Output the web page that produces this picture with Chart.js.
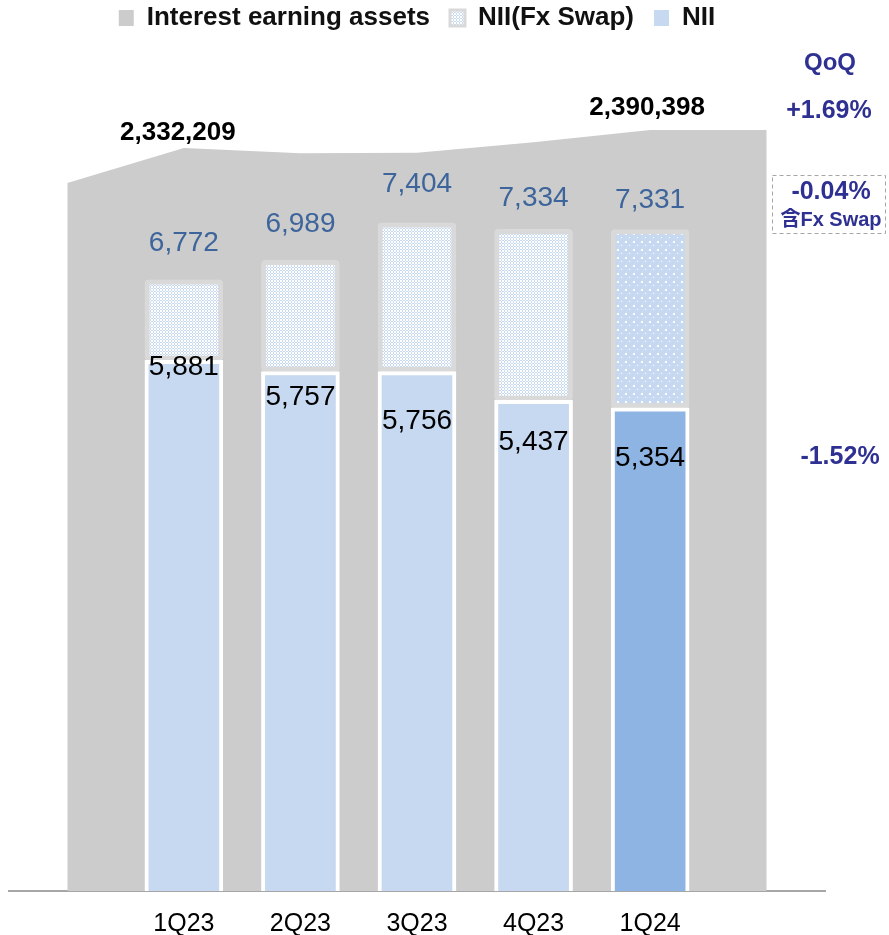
<!DOCTYPE html>
<html>
<head>
<meta charset="utf-8">
<script src="https://cdn.jsdelivr.net/npm/chart.js@4"></script>
<style>
  html, body { margin: 0; padding: 0; background: #fff; }
</style>
</head>
<body>
<canvas id="niiChart" width="889" height="935"></canvas>
<script>
const quarters = ['1Q23', '2Q23', '3Q23', '4Q23', '1Q24'];
const niiTotal = [6772, 6989, 7404, 7334, 7331];   // NII incl. Fx Swap
const nii = [5881, 5757, 5756, 5437, 5354];
// interest earning assets, with one edge point before and after the quarters
const assets = [2219000, 2332209, 2315000, 2316500, 2350672, 2390398, 2390398];
const assetLabels = ['', '2,332,209', '', '', '', '2,390,398', ''];
const qoqAssets = '+1.69%';
const qoqTotal = '-0.04%';
const qoqNii = '-1.52%';

const FONT = '"Liberation Sans", Arial, "Noto Sans CJK KR", sans-serif';
const NAVY = '#2e3192';

function makePattern(kind) {
    const size = kind === 'weave' ? 6 : 8;
    const c = document.createElement('canvas');
    c.width = size; c.height = size;
    const g = c.getContext('2d');
    g.fillStyle = '#c6d9f0';
    g.fillRect(0, 0, size, size);
    g.fillStyle = '#ffffff';
    if (kind === 'weave') {
        for (let px = 0; px < size; px++) {
            for (let py = 0; py < size; py++) {
                if ((px + py) % 3 === 0 || (px - py + size) % 3 === 0) g.fillRect(px, py, 1, 1);
            }
        }
    } else {
        g.fillRect(1, 1, 2, 2);
        g.fillRect(5, 5, 1, 1);
    }
    return g.createPattern(c, 'repeat');
}

document.addEventListener('DOMContentLoaded', function() {
    const weave = makePattern('weave');
    const dots = makePattern('dots');

    const fxColors = quarters.map((q, i) => i === quarters.length - 1 ? dots : weave);
    const niiColors = quarters.map((q, i) => i === quarters.length - 1 ? '#8eb4e3' : '#c6d9f0');

    const legendStyle = [
        { fillStyle: '#cccccc', strokeStyle: '#cccccc', lineWidth: 0 },
        { fillStyle: weave, strokeStyle: '#d9d9d9', lineWidth: 3 },
        { fillStyle: '#c6d9f0', strokeStyle: '#c6d9f0', lineWidth: 0 }
    ];

    // small nudges so the value labels sit where the original puts them
    const totalLift = [37, 36, 39, 31, 29];
    const niiDrop = [7, 26, 50, 42, 50];

    const labelPlugin = {
        id: 'valueLabels',
        afterDatasetsDraw(chart) {
            const ctx = chart.ctx;
            const xs = chart.scales.x, ys = chart.scales.y, y2 = chart.scales.y2;
            ctx.save();
            ctx.textAlign = 'center';
            ctx.textBaseline = 'middle';

            ctx.font = '28px ' + FONT;
            ctx.fillStyle = '#3d659b';
            quarters.forEach((q, i) => {
                ctx.fillText(niiTotal[i].toLocaleString('en-US'),
                    xs.getPixelForValue(i + 1), ys.getPixelForValue(niiTotal[i]) - totalLift[i]);
            });

            ctx.fillStyle = '#000';
            quarters.forEach((q, i) => {
                ctx.fillText(nii[i].toLocaleString('en-US'),
                    xs.getPixelForValue(i + 1), ys.getPixelForValue(nii[i]) + niiDrop[i]);
            });

            ctx.font = 'bold 26px ' + FONT;
            assetLabels.forEach((t, i) => {
                if (!t) return;
                const lift = i === 1 ? 15 : 22;
                ctx.fillText(t, xs.getPixelForValue(i) - (i === 1 ? 6 : 3), y2.getPixelForValue(assets[i]) - lift);
            });

            // QoQ column on the right
            ctx.fillStyle = NAVY;
            ctx.font = 'bold 24px ' + FONT;
            ctx.fillText('QoQ', 830, 63);
            ctx.font = 'bold 25px ' + FONT;
            ctx.fillText(qoqAssets, 829, 111);
            ctx.fillText(qoqTotal, 831, 192);
            ctx.fillText(qoqNii, 840, 457);
            ctx.font = 'bold 20px ' + FONT;
            ctx.fillText('含Fx Swap', 831, 220);

            ctx.strokeStyle = '#a6a6a6';
            ctx.lineWidth = 1;
            ctx.setLineDash([4, 3]);
            ctx.strokeRect(772.5, 175.5, 113, 58);
            ctx.restore();
        }
    };

    const ctxNii = document.getElementById('niiChart').getContext('2d');

    new Chart(ctxNii, {
        type: 'bar',
        data: {
            datasets: [
                {
                    type: 'line',
                    label: 'Interest earning assets',
                    data: assets.map((v, i) => ({ x: i, y: v })),
                    yAxisID: 'y2',
                    backgroundColor: '#cccccc',
                    borderWidth: 0,
                    pointRadius: 0,
                    tension: 0,
                    fill: 'start',
                    order: 3
                },
                {
                    label: 'NII(Fx Swap)',
                    data: quarters.map((q, i) => ({ x: i + 1, y: niiTotal[i] - nii[i] })),
                    backgroundColor: fxColors,
                    borderColor: '#d9d9d9',
                    borderWidth: 5,
                    borderSkipped: false,
                    borderRadius: 4,
                    barThickness: 78,
                    order: 2
                },
                {
                    label: 'NII',
                    data: quarters.map((q, i) => ({ x: i + 1, y: nii[i] })),
                    backgroundColor: niiColors,
                    borderColor: '#ffffff',
                    borderWidth: 4,
                    barThickness: 78,
                    order: 1
                }
            ]
        },
        options: {
            responsive: false,
            animation: false,
            layout: { padding: { top: -15, left: 9, right: 64, bottom: 0 } },
            plugins: {
                tooltip: { enabled: false },
                legend: {
                    position: 'top',
                    labels: {
                        color: '#111',
                        font: { family: FONT, size: 26, weight: 'bold' },
                        boxWidth: 15,
                        boxHeight: 16,
                        padding: 20,
                        sort: (a, b) => a.datasetIndex - b.datasetIndex,
                        generateLabels(chart) {
                            const items = Chart.defaults.plugins.legend.labels.generateLabels(chart);
                            items.forEach(it => Object.assign(it, legendStyle[it.datasetIndex]));
                            return items;
                        }
                    }
                }
            },
            scales: {
                x: {
                    type: 'linear',
                    min: -0.5,
                    max: 6.5,
                    offset: false,
                    stacked: true,
                    grid: { display: false, drawTicks: false },
                    border: { display: true, color: '#a6a6a6', width: 2 },
                    afterBuildTicks: scale => { scale.ticks = quarters.map((q, i) => ({ value: i + 1 })); },
                    afterFit: scale => { scale.height = 44; },
                    ticks: {
                        padding: 18,
                        maxRotation: 0,
                        autoSkip: false,
                        color: '#000',
                        font: { family: FONT, size: 25 },
                        callback: v => quarters[v - 1] || ''
                    }
                },
                y: {
                    stacked: true,
                    display: false,
                    min: 0,
                    max: 9420
                },
                y2: {
                    position: 'right',
                    display: false,
                    min: -69700,
                    max: 2678100
                }
            }
        },
        plugins: [labelPlugin]
    });
});
</script>
</body>
</html>
